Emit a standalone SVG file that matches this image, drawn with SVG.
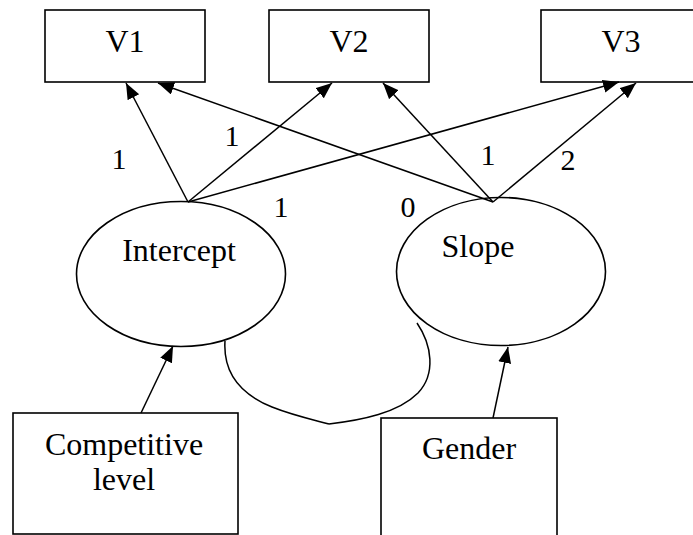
<svg xmlns="http://www.w3.org/2000/svg" width="693" height="535" viewBox="0 0 693 535">
<style>
.box{fill:none;stroke:#000;stroke-width:1.6}
.ell{fill:none;stroke:#000;stroke-width:1.6}
.t{font-size:32px;fill:#000;text-anchor:middle}
.n{font-size:30px;fill:#000;text-anchor:middle}
.c{fill:none;stroke:#000;stroke-width:1.5}
.a{fill:none;stroke:#000;stroke-width:1.5;marker-end:url(#ah)}
</style>
<defs>
<marker id="ah" markerUnits="userSpaceOnUse" markerWidth="18" markerHeight="14" refX="16" refY="6.5" orient="auto">
<path d="M0,0 L16,6.5 L0,13 z" fill="#000"/>
</marker>
</defs>
<rect width="693" height="535" fill="#fff"/>
<g font-family="Liberation Serif, serif">
<g id="V1"><rect class="box" x="45" y="10" width="160" height="72"/><text class="t" x="125" y="52">V1</text></g>
<g id="V2"><rect class="box" x="269" y="10" width="160" height="72"/><text class="t" x="349" y="52">V2</text></g>
<g id="V3"><rect class="box" x="541" y="10" width="160" height="72"/><text class="t" x="621" y="52">V3</text></g>
<g id="Intercept"><ellipse class="ell" cx="181" cy="274" rx="104.5" ry="72.5"/><text class="t" x="179" y="261">Intercept</text></g>
<g id="Slope"><ellipse class="ell" cx="501" cy="271.5" rx="104.5" ry="74"/><text class="t" x="478" y="257">Slope</text></g>
<g id="Competitive"><rect class="box" x="13" y="413" width="225" height="121"/><text class="t" x="124" y="455">Competitive</text><text class="t" x="124" y="490">level</text></g>
<g id="Gender"><rect class="box" x="381" y="418" width="176" height="130"/><text class="t" x="469" y="459">Gender</text></g>
<g id="connectors">
<line class="a" x1="188" y1="202" x2="126" y2="83"/>
<line class="a" x1="188" y1="202" x2="332" y2="83"/>
<line class="a" x1="188" y1="202" x2="619" y2="82"/>
<line class="a" x1="493" y1="202" x2="158" y2="83"/>
<line class="a" x1="493" y1="202" x2="383" y2="83"/>
<line class="a" x1="493" y1="202" x2="636" y2="83"/>
<line class="a" x1="141" y1="413" x2="173" y2="346"/>
<line class="a" x1="493" y1="418" x2="508" y2="347"/>
<path class="c" d="M225,341 C223,372 240,394 272,407 C292,415 310,419 329,424"/>
<path class="c" d="M417,323 C432,345 436,374 418,393 C398,413 362,420 329,424"/>
</g>
<g id="labels">
<text class="n" x="119" y="169">1</text>
<text class="n" x="232" y="146">1</text>
<text class="n" x="488" y="165">1</text>
<text class="n" x="568" y="170">2</text>
<text class="n" x="281" y="217">1</text>
<text class="n" x="408" y="217">0</text>
</g>
</g>
</svg>
